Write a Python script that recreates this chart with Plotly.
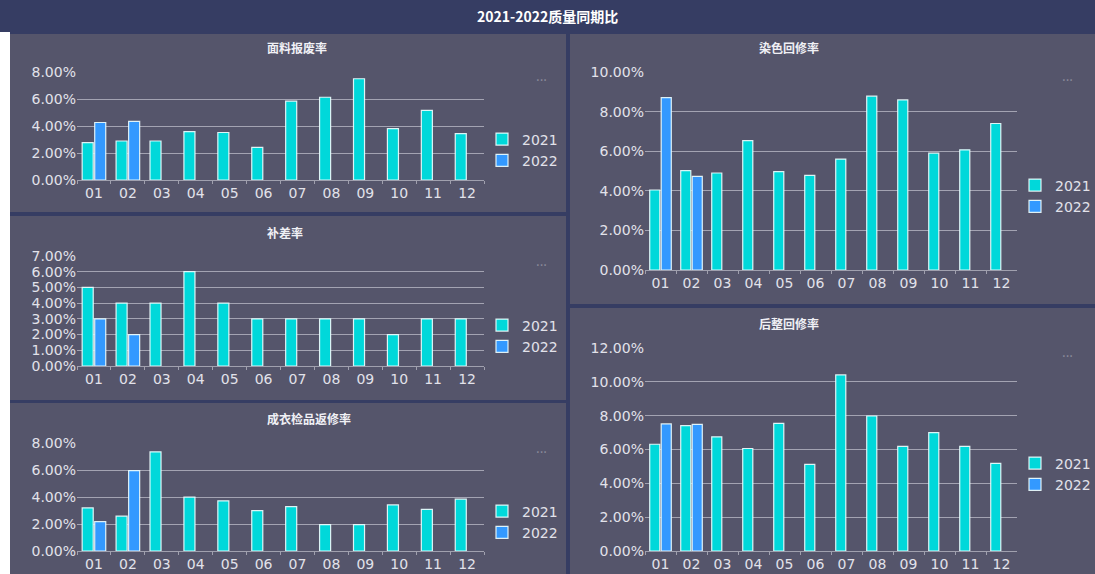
import plotly.graph_objects as go

W, H = 1095, 574

months = ["01", "02", "03", "04", "05", "06", "07", "08", "09", "10", "11", "12"]

# 面料报废率
fabric_2021 = [2.77, 2.89, 2.89, 3.59, 3.52, 2.42, 5.84, 6.13, 7.50, 3.81, 5.16, 3.44]
fabric_2022 = [4.26, 4.34, None, None, None, None, None, None, None, None, None, None]
# 补差率
supp_2021 = [5, 4, 4, 6, 4, 3, 3, 3, 3, 2, 3, 3]
supp_2022 = [3, 2, None, None, None, None, None, None, None, None, None, None]
# 成衣检品返修率
garment_2021 = [3.19, 2.58, 7.35, 3.99, 3.72, 2.99, 3.28, 1.95, 1.95, 3.41, 3.09, 3.84]
garment_2022 = [2.17, 5.96, None, None, None, None, None, None, None, None, None, None]
# 染色回修率
dye_2021 = [4.04, 5.02, 4.90, 6.53, 4.97, 4.78, 5.60, 8.78, 8.59, 5.90, 6.07, 7.40]
dye_2022 = [8.71, 4.73, None, None, None, None, None, None, None, None, None, None]
# 后整回修率
finish_2021 = [6.31, 7.41, 6.75, 6.06, 7.55, 5.12, 10.41, 7.98, 6.18, 7.00, 6.18, 5.18]
finish_2022 = [7.51, 7.49, None, None, None, None, None, None, None, None, None, None]

NAVY = "#363d63"
PANEL = "#55556b"
C21 = "#00d8da"
C22 = "#3399ff"
TXT = "#e2e2ea"

def px_x(v):
    return v / W

def px_y(v):
    return 1 - v / H

# title, (plot x0, x1, y_top, y_bottom), y max, dtick, series, title pos, dots pos, legend pos
panels = [
    ("面料报废率", (77, 484, 72, 180), 8, 2, fabric_2021, fabric_2022, (265, 48), (541, 80), (482, 150)),
    ("补差率", (77, 484, 256, 366), 7, 1, supp_2021, supp_2022, (265, 232), (541, 264), (482, 336)),
    ("成衣检品返修率", (77, 484, 443, 551), 8, 2, garment_2021, garment_2022, (265, 418), (541, 451), (482, 522)),
    ("染色回修率", (645, 1017, 72, 270), 10, 2, dye_2021, dye_2022, (821, 48), (1075, 80), (1015, 196)),
    ("后整回修率", (645, 1017, 348, 551), 12, 2, finish_2021, finish_2022, (821, 323), (1075, 355), (1015, 474)),
]

fig = go.Figure()

shapes = [
    dict(type="rect", xref="paper", yref="paper", x0=0, x1=1, y0=px_y(32), y1=1,
         fillcolor=NAVY, line_width=0, layer="below"),
    dict(type="rect", xref="paper", yref="paper", x0=0, x1=px_x(10), y0=0, y1=px_y(32),
         fillcolor="white", line_width=0, layer="below"),
]
# panel backgrounds
for x0, x1, y0, y1 in [(10, 566, 34, 212), (10, 566, 216, 400), (10, 566, 403, 574),
                       (570, 1095, 34, 304), (570, 1095, 308, 574)]:
    shapes.append(dict(type="rect", xref="paper", yref="paper",
                       x0=px_x(x0), x1=px_x(x1), y0=px_y(y1), y1=px_y(y0),
                       fillcolor=PANEL, line_width=0, layer="below"))

annotations = [dict(text="<b>2021-2022质量同期比</b>", x=0.5, y=px_y(16), xref="paper", yref="paper",
                    yanchor="middle", showarrow=False,
                    font=dict(size=14, color="white", family="Noto Sans CJK SC"))]

layout = {}
for i, (title, box, ymax, dtick, s21, s22, tpos, dpos, lpos) in enumerate(panels):
    n = i + 1
    sfx = "" if n == 1 else str(n)
    x0, x1, yt, yb = box
    leg = "legend" + sfx
    fig.add_trace(go.Bar(x=months, y=s21, name="2021", marker=dict(color=C21, line=dict(color="rgba(240,255,255,0.9)", width=1.2)),
                         xaxis="x" + sfx, yaxis="y" + sfx, legend=leg))
    fig.add_trace(go.Bar(x=months, y=s22, name="2022", marker=dict(color=C22, line=dict(color="rgba(240,255,255,0.9)", width=1.2)),
                         xaxis="x" + sfx, yaxis="y" + sfx, legend=leg))
    layout["xaxis" + sfx] = dict(domain=[px_x(x0), px_x(x1)], anchor="y" + sfx, type="category",
                                 showgrid=False, showline=True, linecolor="#a0a0ae", linewidth=1,
                                 ticks="outside", tickson="boundaries", ticklen=3, tickcolor="#a0a0ae",
                                 automargin=False,
                                 tickfont=dict(size=14, color=TXT, family="DejaVu Sans"), fixedrange=True)
    layout["yaxis" + sfx] = dict(domain=[px_y(yb), px_y(yt)], anchor="x" + sfx, range=[0, ymax], dtick=dtick,
                                 tickformat=".2f", ticksuffix="%", showgrid=True, gridcolor="rgba(215,215,225,0.6)",
                                 gridwidth=1, zeroline=False, showline=False, automargin=False,
                                 tickfont=dict(size=14, color=TXT, family="DejaVu Sans"), fixedrange=True)
    layout[leg] = dict(x=px_x(lpos[0]), y=px_y(lpos[1]), xanchor="left", yanchor="middle",
                       bgcolor="rgba(0,0,0,0)", font=dict(size=14, color=TXT, family="DejaVu Sans"),
                       itemwidth=30, tracegroupgap=0)
    annotations.append(dict(text="<b>" + title + "</b>", x=px_x(tpos[0]), y=px_y(tpos[1]), xref="paper", yref="paper",
                            yanchor="middle", showarrow=False,
                            font=dict(size=12, color="#f0f0f5", family="Noto Sans CJK SC")))
    annotations.append(dict(text="···", x=px_x(dpos[0]), y=px_y(dpos[1]), xref="paper", yref="paper",
                            yanchor="middle", showarrow=False, font=dict(size=14, color="#8a8a9a")))

fig.update_layout(**layout)
fig.update_layout(width=W, height=H, margin=dict(l=0, r=0, t=0, b=0, autoexpand=False),
                  paper_bgcolor=NAVY, plot_bgcolor="rgba(0,0,0,0)",
                  barmode="group", bargap=0.26, bargroupgap=0.12,
                  shapes=shapes, annotations=annotations, showlegend=True)

fig.write_html("out.html", config={"displayModeBar": False},
               post_script="document.body.style.margin='0';document.body.style.overflow='hidden';")
